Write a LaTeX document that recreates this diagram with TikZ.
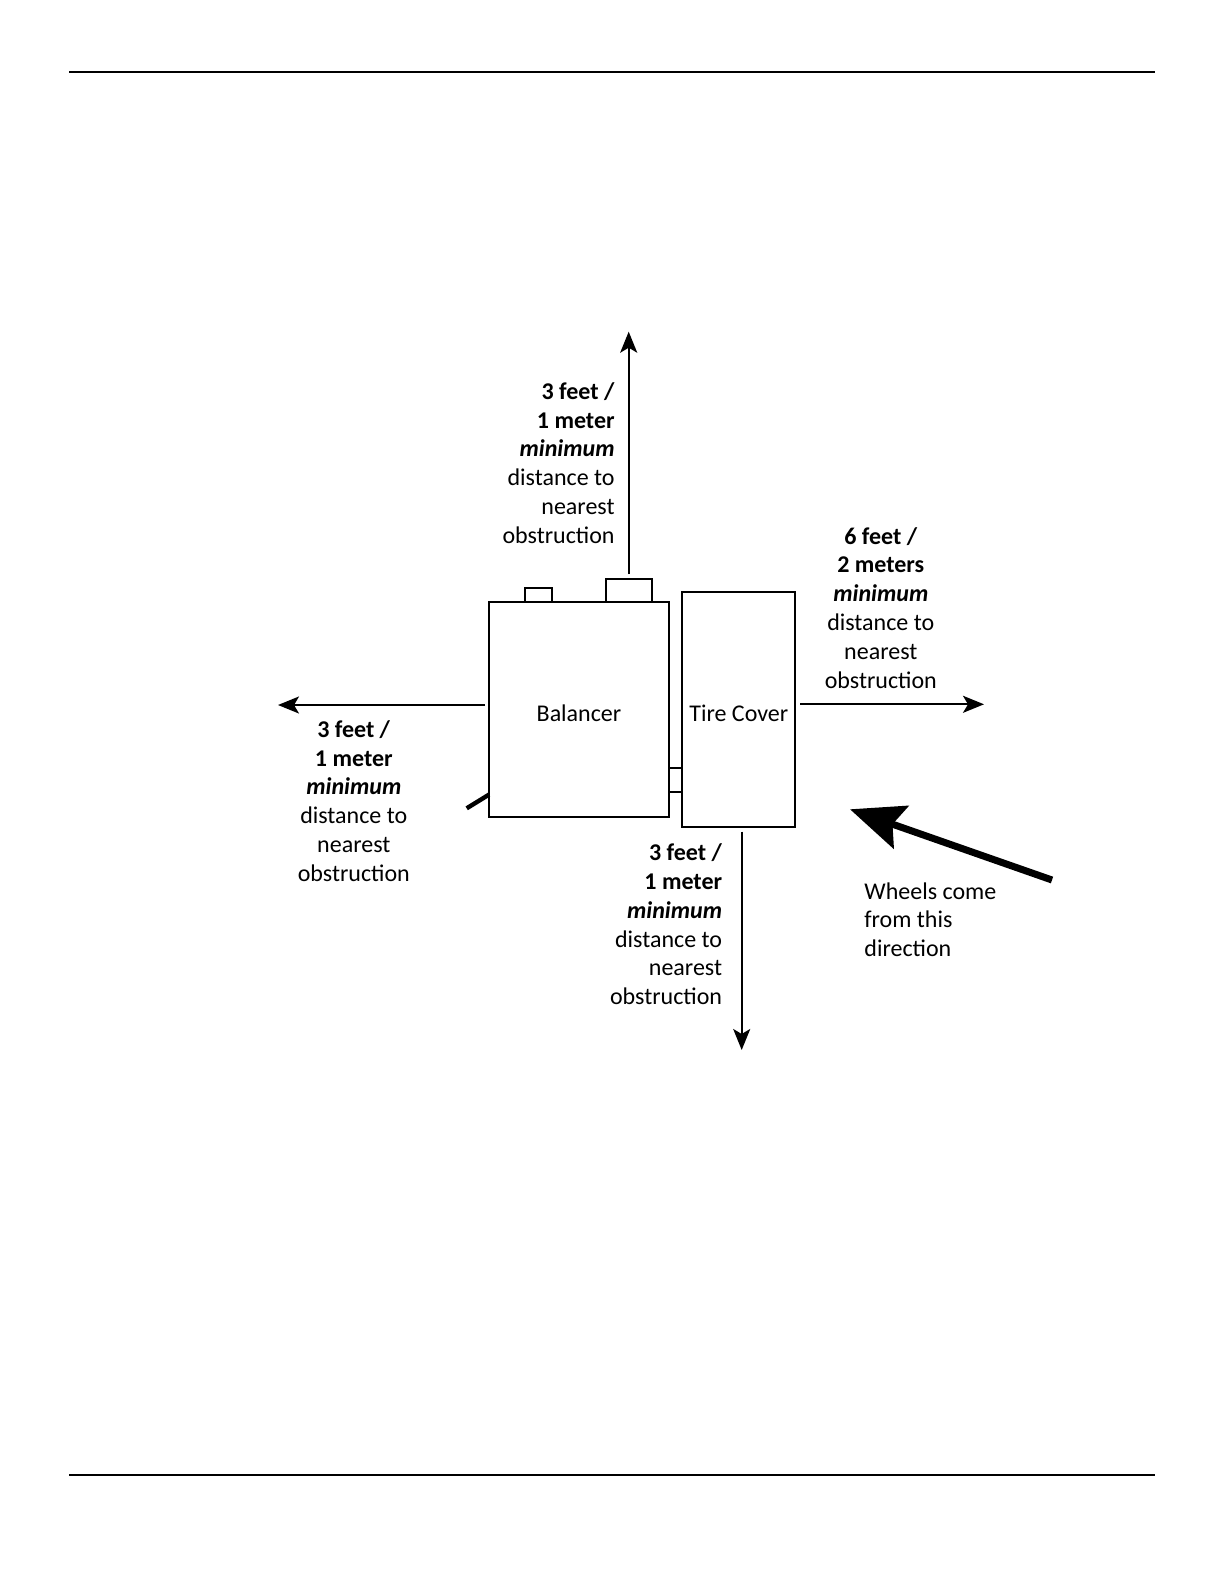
\documentclass[tikz,border=0pt]{standalone}
\usepackage{fontspec}
\setmainfont{Carlito}
\usetikzlibrary{arrows.meta}
\begin{document}
\begin{tikzpicture}[x=0.5pt,y=-0.5pt,
  every node/.style={font=\fontsize{12pt}{14.4pt}\selectfont, inner sep=0pt},
  rule/.style={line width=0.6pt},
  boxline/.style={draw, line width=1pt},
  dimarrow/.style={line width=1pt, -{Stealth[length=10.5pt,width=8.5pt,inset=2.5pt]}},
  bigarrow/.style={line width=3.5pt, -{Stealth[length=27pt,width=22.5pt,inset=4.5pt]}},
  lbl/.style={align=center},
  lblr/.style={align=right},
  lbll/.style={align=left}]
\useasboundingbox (0,0) rectangle (1224,1584);
% page rules
\coordinate (r1a) at (69,72); \coordinate (r1b) at (1155,72);
\coordinate (r2a) at (69,1475); \coordinate (r2b) at (1155,1475);
\draw[rule] (r1a) -- (r1b);
\draw[rule] (r2a) -- (r2b);
% boxes
\node[boxline, minimum width=90pt, minimum height=107.8pt] (bal) at (579,709.5) {};
\node[boxline, minimum width=56.5pt, minimum height=117.2pt] (tire) at (738.8,709.5) {};
\node[anchor=base] (baltxt) at (579,721.7) {Balancer};
\node[anchor=base] (tiretxt) at (738.8,721.7) {Tire Cover};
% tabs
\node[boxline, minimum width=13.6pt, minimum height=7pt] (tab1) at (538.7,594.7) {};
\node[boxline, minimum width=23pt, minimum height=11.35pt] (tab2) at (628.7,590.35) {};
\node[boxline, minimum width=6.5pt, minimum height=12pt] (link) at (675.6,780.3) {};
% left stub
\coordinate (stubA) at (466.7,808.3);
\coordinate (stubB) at (489,794.6);
\draw[line width=2.2pt] (stubA) -- (stubB);
% dimension arrows
\coordinate (upS) at (628.7,574); \coordinate (upE) at (628.7,331.7);
\coordinate (leS) at (485,705); \coordinate (leE) at (278,705);
\coordinate (riS) at (800,704.3); \coordinate (riE) at (984,704.3);
\coordinate (dnS) at (741.7,831.7); \coordinate (dnE) at (741.7,1050);
\draw[dimarrow] (upS) -- (upE);
\draw[dimarrow] (leS) -- (leE);
\draw[dimarrow] (riS) -- (riE);
\draw[dimarrow] (dnS) -- (dnE);
% labels (base anchor = last line baseline)
\node[lblr, anchor=base east] (lup) at (615,543.3) {\textbf{3 feet /}\\\textbf{1 meter}\\\textbf{\textit{minimum}}\\distance to\\nearest\\obstruction};
\node[lbl, anchor=base] (lle) at (353.8,881.3) {\textbf{3 feet /}\\\textbf{1 meter}\\\textbf{\textit{minimum}}\\distance to\\nearest\\obstruction};
\node[lbl, anchor=base] (lri) at (880.8,688) {\textbf{6 feet /}\\\textbf{2 meters}\\\textbf{\textit{minimum}}\\distance to\\nearest\\obstruction};
\node[lblr, anchor=base east] (ldn) at (722.5,1004.7) {\textbf{3 feet /}\\\textbf{1 meter}\\\textbf{\textit{minimum}}\\distance to\\nearest\\obstruction};
% wheels arrow
\coordinate (wS) at (1052,880); \coordinate (wE) at (850,809.3);
\draw[bigarrow] (wS) -- (wE);
\node[lbll, anchor=base west] (wtxt) at (864,956.6) {Wheels come\\from this\\direction};
\end{tikzpicture}
\end{document}
